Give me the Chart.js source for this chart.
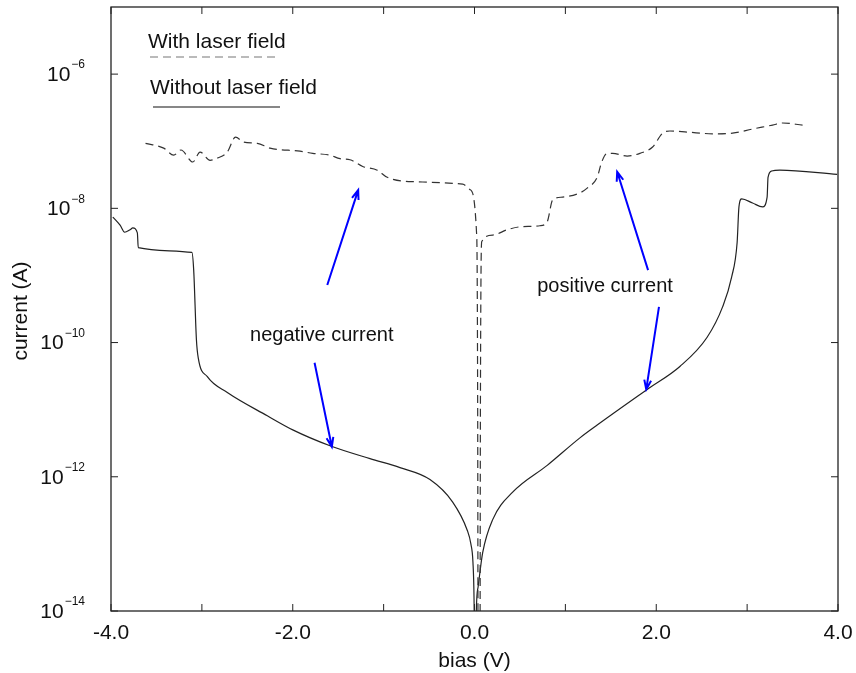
<!DOCTYPE html>
<html lang="en">
<head>
<meta charset="UTF-8">
<title>Current vs bias, with and without laser field</title>
<script src="https://cdn.jsdelivr.net/npm/chart.js"></script>
<style>
  body { margin: 0; background: #fff; }
  #wrap { width: 856px; height: 673px; }
</style>
</head>
<body>
<div id="wrap"><canvas id="ivChart" width="856" height="673"></canvas></div>
<script>
// with laser field (dashed)
const laserBias = [-3.62, -3.42, -3.31, -3.23, -3.10, -3.02, -2.91, -2.83, -2.72, -2.63, -2.54, -2.39, -2.25,
  -1.92, -1.78, -1.59, -1.48, -1.37, -1.23, -1.07, -0.96, -0.68, -0.13, -0.05, 0.025, 0.035, 0.04,
  0.06, 0.065, 0.08, 0.20, 0.36, 0.50, 0.72, 0.80, 0.86, 0.97, 1.16, 1.24, 1.35, 1.40, 1.46, 1.52,
  1.68, 1.82, 1.96, 2.07, 2.15, 2.34, 2.62, 2.84, 3.06, 3.28, 3.39, 3.61];
const laserCurrent = [9.3e-8, 7.9e-8, 6.2e-8, 7.4e-8, 4.9e-8, 6.9e-8, 5.2e-8, 5.6e-8, 6.9e-8, 1.15e-7, 9.7e-8, 9.3e-8, 7.9e-8,
  7.1e-8, 6.6e-8, 6.2e-8, 5.5e-8, 5.3e-8, 4.2e-8, 3.7e-8, 2.9e-8, 2.5e-8, 2.3e-8, 1.9e-8, 3.7e-9, 1e-11, 1e-15,
  1e-15, 1e-11, 3.2e-9, 4.0e-9, 4.8e-9, 5.3e-9, 5.5e-9, 6.3e-9, 1.33e-8, 1.47e-8, 1.7e-8, 2.0e-8, 2.9e-8, 4.9e-8, 6.6e-8, 6.6e-8,
  6.0e-8, 6.6e-8, 8.2e-8, 1.32e-7, 1.42e-7, 1.37e-7, 1.29e-7, 1.32e-7, 1.52e-7, 1.74e-7, 1.87e-7, 1.74e-7];

// without laser field (solid)
const darkBias = [-3.98, -3.90, -3.85, -3.79, -3.76, -3.71, -3.70, -3.11, -3.09, -3.06, -3.04, -2.94, -2.72,
  -2.28, -2.00, -1.59, -1.15, -0.82, -0.49, -0.24, -0.08, -0.04, -0.017, -0.005, 0.003,
  0.012, 0.02, 0.04, 0.09, 0.20, 0.42, 0.80, 1.16, 1.35, 1.90, 2.26, 2.56, 2.73, 2.83, 2.89, 2.91, 2.94,
  3.06, 3.17, 3.22, 3.23, 3.27, 3.36, 3.99];
const darkCurrent = [7.4e-9, 5.6e-9, 4.4e-9, 4.8e-9, 5.1e-9, 4.3e-9, 2.6e-9, 2.2e-9, 1.2e-9, 1.1e-10, 5.9e-11, 3.1e-11, 1.8e-11,
  8.1e-12, 5.0e-12, 2.9e-12, 1.86e-12, 1.37e-12, 9.1e-13, 4.2e-13, 1.6e-13, 1.0e-13, 5.3e-14, 1.5e-14, 1e-15,
  1e-15, 1e-14, 2.3e-14, 7.4e-14, 2.3e-13, 5.9e-13, 1.48e-12, 3.8e-12, 5.9e-12, 2.0e-11, 4.4e-11, 1.2e-10, 3.4e-10, 9.5e-10, 3.1e-9, 1.05e-8, 1.38e-8,
  1.2e-8, 1.05e-8, 1.47e-8, 2.9e-8, 3.6e-8, 3.7e-8, 3.2e-8];

const xTicks = [-4, -3, -2, -1, 0, 1, 2, 3, 4];
const xTickLabels = ['-4.0', '', '-2.0', '', '0.0', '', '2.0', '', '4.0'];
const yTickExps = [-14, -12, -10, -8, -6];

// annotation arrows (tail -> head) and notes, in data units
const arrowFromBias = [-1.62, -1.76, 1.91, 2.03];
const arrowFromCurrent = [7.2e-10, 5.0e-11, 1.2e-9, 3.4e-10];
const arrowToBias = [-1.28, -1.57, 1.57, 1.89];
const arrowToCurrent = [1.87e-8, 2.8e-12, 3.5e-8, 2.0e-11];
const noteText = ['negative current', 'positive current'];
const noteBias = [-2.47, 0.69];
const noteCurrent = [1.26e-10, 6.8e-10];

const FONT = '"Liberation Sans", Arial, Helvetica, sans-serif';

const decorPlugin = {
    id: 'decor',
    afterDraw(chart) {
        const ctx = chart.ctx;
        const xs = chart.scales.x, ys = chart.scales.y;
        const a = chart.chartArea;
        ctx.save();

        // frame
        ctx.strokeStyle = '#222';
        ctx.lineWidth = 1.3;
        ctx.strokeRect(a.left, a.top, a.right - a.left, a.bottom - a.top);

        // inward ticks
        ctx.lineWidth = 1;
        xTicks.forEach(v => {
            const px = xs.getPixelForValue(v);
            ctx.beginPath();
            ctx.moveTo(px, a.bottom); ctx.lineTo(px, a.bottom - 7);
            ctx.moveTo(px, a.top); ctx.lineTo(px, a.top + 7);
            ctx.stroke();
        });
        yTickExps.forEach(e => {
            const py = ys.getPixelForValue(Math.pow(10, e));
            ctx.beginPath();
            ctx.moveTo(a.left, py); ctx.lineTo(a.left + 7, py);
            ctx.moveTo(a.right, py); ctx.lineTo(a.right - 7, py);
            ctx.stroke();
        });

        // tick labels
        ctx.fillStyle = '#111';
        ctx.textBaseline = 'middle';
        ctx.textAlign = 'center';
        ctx.font = '21px ' + FONT;
        xTicks.forEach((v, i) => {
            if (xTickLabels[i]) ctx.fillText(xTickLabels[i], xs.getPixelForValue(v), a.bottom + 22);
        });
        ctx.textAlign = 'left';
        yTickExps.forEach(e => {
            const py = ys.getPixelForValue(Math.pow(10, e));
            const sup = '\u2212' + Math.abs(e);
            ctx.font = '21px ' + FONT;
            const w = ctx.measureText('10').width;
            ctx.font = '12px ' + FONT;
            const ws = ctx.measureText(sup).width;
            const x0 = 85 - w - 1 - ws;
            ctx.font = '21px ' + FONT;
            ctx.fillText('10', x0, py + 1);
            ctx.font = '12px ' + FONT;
            ctx.fillText(sup, x0 + w + 1, py - 9);
        });

        // axis titles
        ctx.font = '21px ' + FONT;
        ctx.textAlign = 'center';
        ctx.fillText('bias (V)', (a.left + a.right) / 2, a.bottom + 50);
        ctx.save();
        ctx.translate(21, 311);
        ctx.rotate(-Math.PI / 2);
        ctx.fillText('current (A)', 0, 0);
        ctx.restore();

        // legend
        ctx.textAlign = 'left';
        ctx.font = '21px ' + FONT;
        ctx.fillText('With laser field', 148, 42);
        ctx.fillText('Without laser field', 150, 88);
        ctx.lineWidth = 1.2;
        ctx.strokeStyle = '#777';
        ctx.setLineDash([8, 5]);
        ctx.beginPath(); ctx.moveTo(150, 57); ctx.lineTo(277, 57); ctx.stroke();
        ctx.setLineDash([]);
        ctx.strokeStyle = '#111';
        ctx.beginPath(); ctx.moveTo(153, 107); ctx.lineTo(280, 107); ctx.stroke();

        // notes
        ctx.font = '20px ' + FONT;
        noteText.forEach((t, i) => {
            ctx.fillText(t, xs.getPixelForValue(noteBias[i]), ys.getPixelForValue(noteCurrent[i]));
        });

        // arrows
        ctx.strokeStyle = '#0000ff';
        ctx.lineWidth = 2;
        arrowFromBias.forEach((b, i) => {
            const x0 = xs.getPixelForValue(b), y0 = ys.getPixelForValue(arrowFromCurrent[i]);
            const x1 = xs.getPixelForValue(arrowToBias[i]), y1 = ys.getPixelForValue(arrowToCurrent[i]);
            const ang = Math.atan2(y1 - y0, x1 - x0);
            ctx.beginPath();
            ctx.moveTo(x0, y0); ctx.lineTo(x1, y1);
            ctx.moveTo(x1 - 10 * Math.cos(ang - 0.35), y1 - 10 * Math.sin(ang - 0.35));
            ctx.lineTo(x1, y1);
            ctx.lineTo(x1 - 10 * Math.cos(ang + 0.35), y1 - 10 * Math.sin(ang + 0.35));
            ctx.stroke();
        });
        ctx.restore();
    }
};

const ctx = document.getElementById('ivChart').getContext('2d');
new Chart(ctx, {
    type: 'line',
    data: {
        datasets: [{
            label: 'With laser field',
            data: laserBias.map((b, i) => ({ x: b, y: laserCurrent[i] })),
            borderColor: '#333',
            borderWidth: 1.2,
            borderDash: [8, 5],
            pointRadius: 0,
            cubicInterpolationMode: 'monotone',
            fill: false
        }, {
            label: 'Without laser field',
            data: darkBias.map((b, i) => ({ x: b, y: darkCurrent[i] })),
            borderColor: '#222',
            borderWidth: 1.2,
            pointRadius: 0,
            cubicInterpolationMode: 'monotone',
            fill: false
        }]
    },
    options: {
        responsive: false,
        devicePixelRatio: 1,
        animation: false,
        layout: { padding: { left: 111, right: 18, top: 7, bottom: 62 } },
        scales: {
            x: { type: 'linear', min: -4, max: 4, display: false },
            y: { type: 'logarithmic', min: 1e-14, max: 1e-5, display: false }
        },
        plugins: {
            legend: { display: false },
            tooltip: { enabled: false }
        }
    },
    plugins: [decorPlugin]
});
</script>
</body>
</html>
